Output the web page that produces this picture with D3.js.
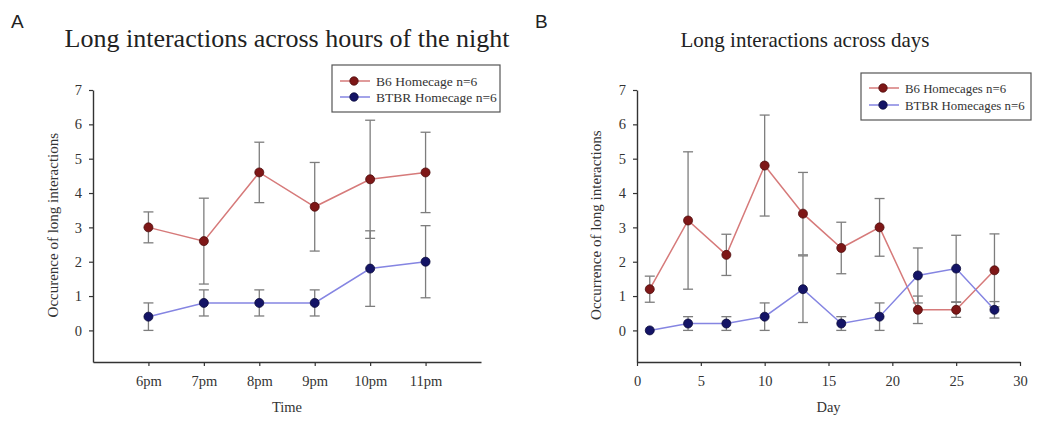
<!DOCTYPE html>
<html><head><meta charset="utf-8">
<script src="https://cdn.jsdelivr.net/npm/d3@7/dist/d3.min.js"></script>
<style>body{margin:0;background:#fff}svg{display:block}</style>
</head><body>
<svg id="c" width="1050" height="421"></svg>
<script>
// ---- data ----
const hours = ["6pm","7pm","8pm","9pm","10pm","11pm"];
const b6Hours = [3.0, 2.6, 4.6, 3.6, 4.4, 4.6];
const b6HoursErr = [0.45, 1.25, 0.88, 1.29, 1.72, 1.17];
const btbrHours = [0.4, 0.8, 0.8, 0.8, 1.8, 2.0];
const btbrHoursErr = [0.4, 0.38, 0.38, 0.38, 1.1, 1.05];

const days = [1, 4, 7, 10, 13, 16, 19, 22, 25, 28];
const b6Days = [1.2, 3.2, 2.2, 4.8, 3.4, 2.4, 3.0, 0.6, 0.6, 1.75];
const b6DaysErr = [0.38, 2.0, 0.6, 1.47, 1.2, 0.75, 0.84, 0.4, 0.22, 1.06];
const btbrDays = [0.0, 0.2, 0.2, 0.4, 1.2, 0.2, 0.4, 1.6, 1.8, 0.6];
const btbrDaysErr = [0, 0.2, 0.2, 0.4, 0.97, 0.2, 0.4, 0.8, 0.97, 0.24];

const yTicks = [0,1,2,3,4,5,6,7];
const dayTicks = [0,5,10,15,20,25,30];

const C = {
  b6Line: "#d67a7a", b6Dot: "#7e1717", b6Stroke: "#4e0c0c",
  btLine: "#8585e2", btDot: "#141466", btStroke: "#0a0a3a",
  err: "#7d7d7d", axis: "#333"
};
const serif = "'Liberation Serif','Times New Roman',Times,serif";
const sans = "'Liberation Sans',Arial,Helvetica,sans-serif";

const svg = d3.select("#c");

function panel(opt) {
  const g = svg.append("g");
  const x = d3.scaleLinear().domain(opt.xDomain).range(opt.xRange);
  const y = d3.scaleLinear().domain([-0.92, 7]).range([362, 90]);

  // axes
  const yAx = d3.axisLeft(y).tickValues(yTicks).tickSize(4).tickSizeOuter(0).tickPadding(7).tickFormat(d3.format("d"));
  const gy = g.append("g").attr("transform", `translate(${opt.xRange[0]},0)`).call(yAx);
  const xAx = d3.axisBottom(x).tickValues(opt.xTickVals).tickSize(4).tickSizeOuter(0).tickPadding(10).tickFormat(opt.xFmt);
  const gx = g.append("g").attr("transform", `translate(0,${y(-0.92)})`).call(xAx);
  [gx, gy].forEach(a => {
    a.select(".domain").attr("stroke", C.axis).attr("stroke-width", 1.4);
    a.selectAll(".tick line").attr("stroke", C.axis).attr("stroke-width", 1.2);
    a.selectAll("text").attr("fill", "#333").style("font-family", serif).style("font-size", "14.5px");
  });

  // titles
  g.append("text").attr("x", opt.titleX).attr("y", 47).attr("text-anchor", "middle")
    .style("font-family", serif).style("font-size", opt.titleSize).attr("fill", "#222").text(opt.title);
  g.append("text").attr("x", opt.letterX).attr("y", 28)
    .style("font-family", sans).style("font-size", "19px").attr("fill", "#222").text(opt.letter);
  g.append("text").attr("transform", `translate(${opt.ylabX},${(y(7)+y(0))/2+15}) rotate(-90)`)
    .attr("text-anchor", "middle").style("font-family", serif).style("font-size", "15px").attr("fill", "#333").text(opt.ylab);
  g.append("text").attr("x", (opt.xRange[0]+opt.xRange[1])/2).attr("y", 412).attr("text-anchor", "middle")
    .style("font-family", serif).style("font-size", "14.5px").attr("fill", "#333").text(opt.xlab);

  const series = [
    {v: opt.b6, e: opt.b6e, line: C.b6Line, dot: C.b6Dot, st: C.b6Stroke},
    {v: opt.bt, e: opt.bte, line: C.btLine, dot: C.btDot, st: C.btStroke}
  ];
  const line = d3.line().x(d => x(d[0])).y(d => y(d[1]));
  series.forEach(s => {
    const pts = opt.xs.map((xv, i) => [xv, s.v[i], s.e[i]]);
    g.append("path").datum(pts).attr("d", line).attr("fill", "none").attr("stroke", s.line).attr("stroke-width", 1.5);
    s.pts = pts;
  });
  series.forEach(s => {
    const eb = g.append("g").attr("stroke", C.err).attr("stroke-width", 1.3).attr("fill", "none");
    s.pts.filter(d => d[2] > 0).forEach(d => {
      const cx = x(d[0]), t = y(d[1] + d[2]), b = y(d[1] - d[2]);
      eb.append("line").attr("x1", cx).attr("x2", cx).attr("y1", t).attr("y2", b);
      eb.append("line").attr("x1", cx-5).attr("x2", cx+5).attr("y1", t).attr("y2", t);
      eb.append("line").attr("x1", cx-5).attr("x2", cx+5).attr("y1", b).attr("y2", b);
    });
  });
  series.forEach(s => {
    g.append("g").selectAll("circle").data(s.pts).join("circle")
      .attr("cx", d => x(d[0])).attr("cy", d => y(d[1])).attr("r", 4.5)
      .attr("fill", s.dot).attr("stroke", s.st).attr("stroke-width", 0.8);
  });

  // legend
  const L = opt.legend;
  g.append("rect").attr("x", L.x).attr("y", L.y).attr("width", L.w).attr("height", L.h)
    .attr("fill", "#fff").attr("stroke", "#555").attr("stroke-width", 1.2);
  opt.legLabels.forEach((lab, i) => {
    const s = series[i];
    const ly = L.y + L.r0 + i * L.dy;
    g.append("line").attr("x1", L.x + 8).attr("x2", L.x + 38).attr("y1", ly).attr("y2", ly)
      .attr("stroke", s.line).attr("stroke-width", 1.5);
    g.append("circle").attr("cx", L.x + 22).attr("cy", ly).attr("r", 4.2).attr("fill", s.dot).attr("stroke", s.st).attr("stroke-width", 0.8);
    g.append("text").attr("x", L.x + 44).attr("y", ly + 4.5).style("font-family", serif)
      .style("font-size", L.fs).attr("fill", "#333").text(lab);
  });
}

panel({
  xDomain: [-1, 6], xRange: [93, 481],
  xs: hours.map((h, i) => i), xTickVals: hours.map((h, i) => i), xFmt: i => hours[i],
  b6: b6Hours, b6e: b6HoursErr, bt: btbrHours, bte: btbrHoursErr,
  title: "Long interactions across hours of the night", titleX: 287, titleSize: "26px", letter: "A", letterX: 11,
  ylab: "Occurence of long interactions", ylabX: 58, xlab: "Time",
  legend: {x: 332, y: 65, w: 168, h: 47, r0: 16, dy: 16, fs: "13.5px"},
  legLabels: ["B6 Homecage n=6", "BTBR Homecage n=6"]
});
panel({
  xDomain: [0, 30], xRange: [637, 1020],
  xs: days, xTickVals: dayTicks, xFmt: d3.format("d"),
  b6: b6Days, b6e: b6DaysErr, bt: btbrDays, bte: btbrDaysErr,
  title: "Long interactions across days", titleX: 805, titleSize: "21px", letter: "B", letterX: 535,
  ylab: "Occurrence of long interactions", ylabX: 601, xlab: "Day",
  legend: {x: 861, y: 73, w: 170, h: 47, r0: 15, dy: 17, fs: "12.8px"},
  legLabels: ["B6 Homecages n=6", "BTBR Homecages n=6"]
});
</script>
</body></html>
